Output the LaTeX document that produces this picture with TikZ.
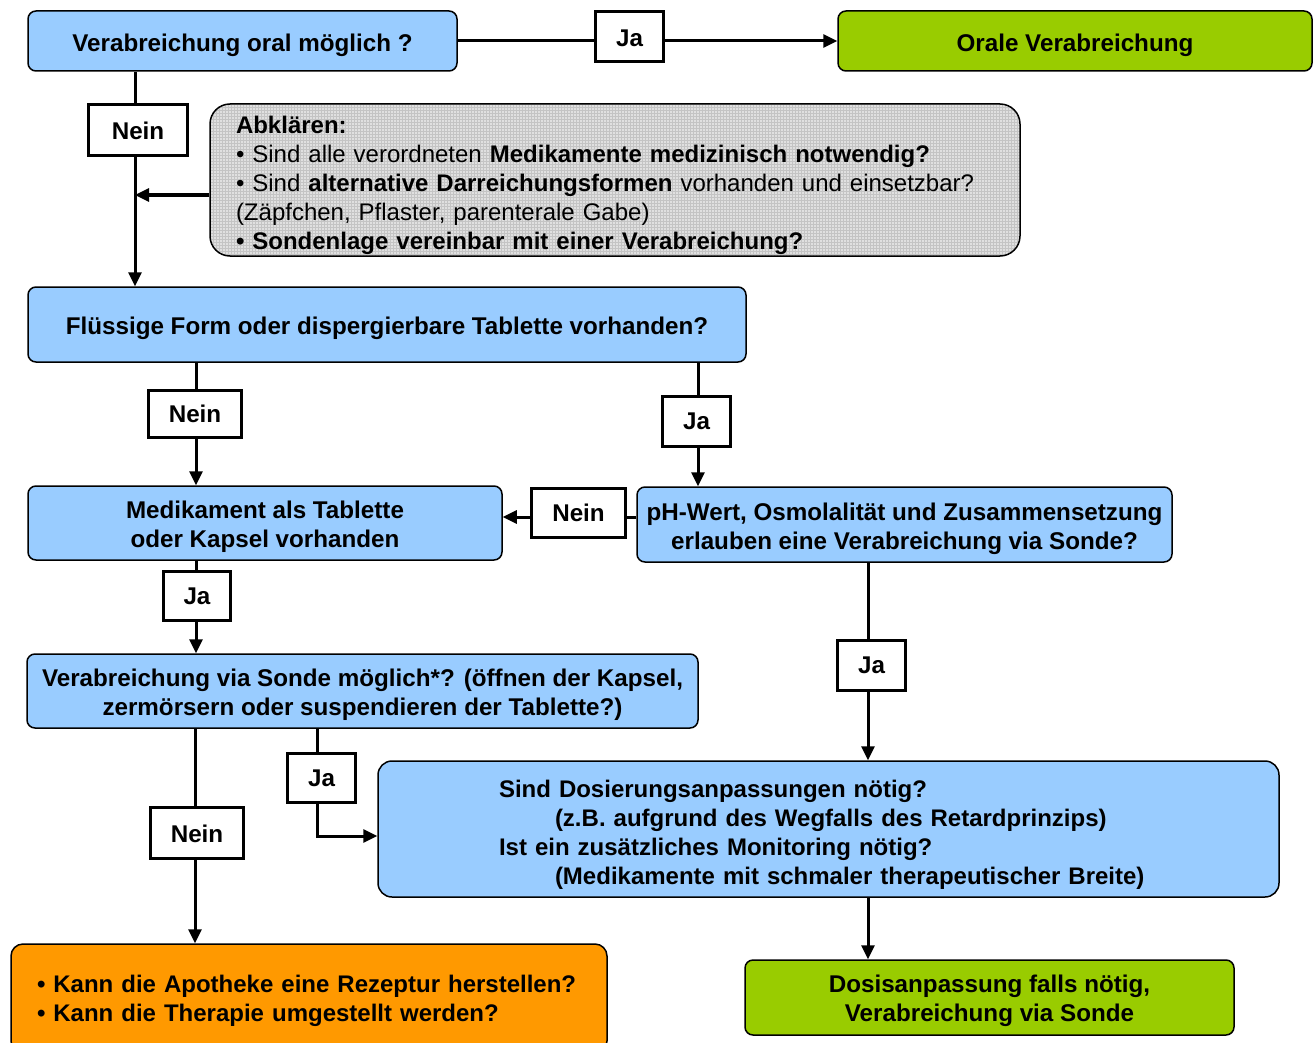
\documentclass[tikz,border=0pt]{standalone}
\usepackage{fontspec}
\setmainfont{Liberation Sans}
\usetikzlibrary{arrows.meta,patterns}
\definecolor{bx}{RGB}{153,204,255}
\definecolor{gr}{RGB}{153,204,0}
\definecolor{org}{RGB}{255,153,0}
\definecolor{gbg}{RGB}{224,224,224}
\definecolor{ggrid}{RGB}{196,196,196}
\newcommand\myStrut[1]{\rule{0pt}{#1}}
\begin{document}
\begin{tikzpicture}[x=1pt,y=-1pt,
 txt/.style={font=\fontsize{24.2}{29}\selectfont\bfseries},
 txtb/.style={font=\fontsize{24}{29}\selectfont\bfseries},
 box/.style={txt, draw=black, line width=1.5pt, rounded corners=8pt, fill=bx, align=center, inner sep=0pt},
 lbl/.style={txt, draw=black, line width=3pt, fill=white, inner sep=0pt},
 conn/.style={line width=3pt},
 arr/.style={conn, -{Triangle[length=14pt,width=13pt]}},
]
\useasboundingbox (0,0) rectangle (1316,1043);
\clip (0,0) rectangle (1316,1043);

% boxes
\node[box, minimum width=429pt, minimum height=60pt] (q1) at (242.5,41) {\myStrut{27pt}Verabreichung oral möglich ?};
\node[box, fill=gr, minimum width=474pt, minimum height=60pt] (orale) at (1075,41) {\myStrut{27pt}Orale Verabreichung};
\node[draw=black, line width=1.5pt, rounded corners=20pt, preaction={fill=gbg},
      pattern=grid, pattern color=ggrid,
      minimum width=810pt, minimum height=152pt, text width=758pt,
      inner xsep=26pt, inner ysep=0pt, align=left,
      font=\fontsize{24}{29}\selectfont] (abk) at (615,180)
  {\myStrut{28pt}\textbf{Abklären:}\\
   \mbox{• Sind alle verordneten \textbf{Medikamente medizinisch notwendig?}}\\
   \mbox{• Sind \textbf{alternative Darreichungsformen} vorhanden und einsetzbar?}\\
   \mbox{(Zäpfchen, Pflaster, parenterale Gabe)}\\
   \mbox{\textbf{• Sondenlage vereinbar mit einer Verabreichung?}}};
\node[box, minimum width=718pt, minimum height=75pt] (fl) at (387,324.5) {\myStrut{26pt}Flüssige Form oder dispergierbare Tablette vorhanden?};
\node[box, minimum width=474pt, minimum height=74pt] (med) at (265,523) {\myStrut{25.5pt}Medikament als Tablette\\oder Kapsel vorhanden};
\node[box, minimum width=535pt, minimum height=75pt] (ph) at (904.5,524.5) {\myStrut{26pt}pH-Wert, Osmolalität und Zusammensetzung\\erlauben eine Verabreichung via Sonde?};
\node[box, minimum width=671pt, minimum height=74pt] (sonde) at (362.5,691) {\myStrut{26pt}Verabreichung via Sonde möglich*? (öffnen der Kapsel,\\zermörsern oder suspendieren der Tablette?)};
\node[box, txtb, rounded corners=14pt, minimum width=901pt, minimum height=136pt, text width=659pt, inner xsep=121pt, align=left] (dq) at (828.5,829)
  {\myStrut{29pt}Sind Dosierungsanpassungen nötig?\\
   \mbox{\hspace*{56pt}(z.B. aufgrund des Wegfalls des Retardprinzips)}\\
   Ist ein zusätzliches Monitoring nötig?\\
   \mbox{\hspace*{56pt}(Medikamente mit schmaler therapeutischer Breite)}};
\node[box, txtb, fill=org, rounded corners=12pt, minimum width=596pt, minimum height=109pt, text width=544pt, inner xsep=26pt, align=left] (kann) at (309,998.5)
  {\myStrut{22pt}\mbox{• Kann die Apotheke eine Rezeptur herstellen?}\\
   \mbox{• Kann die Therapie umgestellt werden?}};
\node[box, fill=gr, minimum width=489pt, minimum height=75pt] (dosis) at (989.5,997.5) {\myStrut{25pt}Dosisanpassung falls nötig,\\Verabreichung via Sonde};

% helper coordinates
\coordinate (x1) at (135,0);
\coordinate (j1) at (135,195);
\coordinate (x2) at (196,0);
\coordinate (x3) at (698,0);
\coordinate (y1) at (0,517);
\coordinate (x4) at (868,0);
\coordinate (x5) at (317,0);
\coordinate (y2) at (0,836);
\coordinate (x6) at (195,0);

% connectors
\draw[arr] (q1.east) -- (orale.west);
\draw[arr] (q1.south -| x1) -- (fl.north -| x1);
\draw[arr] (abk.west |- j1) -- (j1);
\draw[arr] (fl.south -| x2) -- (med.north -| x2);
\draw[arr] (fl.south -| x3) -- (ph.north -| x3);
\draw[arr] (ph.west |- y1) -- (med.east |- y1);
\draw[arr] (med.south -| x2) -- (sonde.north -| x2);
\draw[arr] (ph.south -| x4) -- (dq.north -| x4);
\draw[arr] (sonde.south -| x5) |- (dq.west |- y2);
\draw[arr] (sonde.south -| x6) -- (kann.north -| x6);
\draw[arr] (dq.south -| x4) -- (dosis.north -| x4);

% labels
\node[lbl, minimum width=68pt, minimum height=50pt] (ja1) at (629.5,36.5) {\myStrut{20pt}Ja};
\node[lbl, minimum width=99pt, minimum height=51pt] (nein1) at (138,130) {\myStrut{20pt}Nein};
\node[lbl, minimum width=93pt, minimum height=47pt] (nein2) at (195,414) {Nein};
\node[lbl, minimum width=68pt, minimum height=50pt] (ja2) at (696.5,421.5) {Ja};
\node[lbl, minimum width=94pt, minimum height=49pt] (nein3) at (578.5,513) {Nein};
\node[lbl, minimum width=67pt, minimum height=49pt] (ja3) at (197,596) {Ja};
\node[lbl, minimum width=68pt, minimum height=50pt] (ja4) at (871.5,665.5) {Ja};
\node[lbl, minimum width=68pt, minimum height=49pt] (ja5) at (321.5,778) {Ja};
\node[lbl, minimum width=93pt, minimum height=51pt] (nein4) at (197,833) {\myStrut{19.5pt}Nein};
\end{tikzpicture}
\end{document}
